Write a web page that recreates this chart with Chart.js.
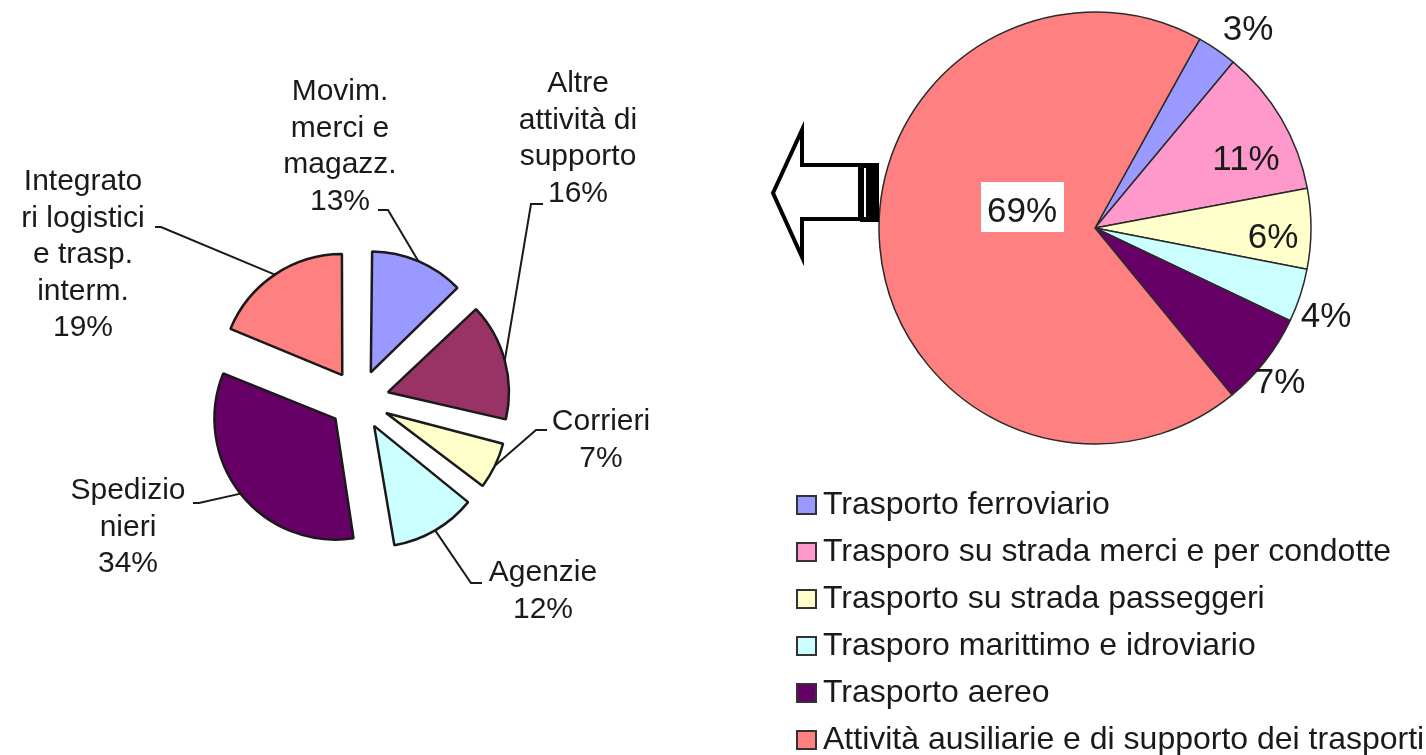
<!DOCTYPE html>
<html>
<head>
<meta charset="utf-8">
<script src="https://cdn.jsdelivr.net/npm/chart.js@4.4.0/dist/chart.umd.min.js"></script>
<style>
  html, body { margin: 0; padding: 0; background: #fff; }
  body { width: 1426px; height: 755px; position: relative; overflow: hidden; }
  #left-chart { position: absolute; left: 0; top: 0; }
  #right-chart { position: absolute; left: 740px; top: 0; }
</style>
</head>
<body>
<canvas id="left-chart" width="740" height="755"></canvas>
<canvas id="right-chart" width="686" height="755"></canvas>
<script>
// left pie: breakdown of the "attività ausiliarie" slice
var leftLabels = [
  ["Movim.", "merci e", "magazz."],
  ["Altre", "attività di", "supporto"],
  ["Corrieri"],
  ["Agenzie"],
  ["Spedizio", "nieri"],
  ["Integrato", "ri logistici", "e trasp.", "interm."]
];
var leftValues = [13, 16, 7, 12, 34, 19];
var leftColors = ["#9999ff", "#993366", "#ffffcc", "#ccffff", "#660066", "#ff8080"];

// right pie: transport sectors
var rightLabels = [
  "Trasporto ferroviario",
  "Trasporo su strada merci e per condotte",
  "Trasporto su strada passeggeri",
  "Trasporo marittimo e idroviario",
  "Trasporto aereo",
  "Attività ausiliarie e di supporto dei trasporti"
];
var rightValues = [3, 11, 6, 4, 7, 69];
var rightColors = ["#9999ff", "#ff99cc", "#ffffcc", "#ccffff", "#660066", "#ff8080"];

// label placement, relative to the pie centre (text centre x, first baseline y, leader start/knee)
var leftLabelPos = [
  {x: -19, y: -300, sx: 19, kx: 29, sy: -190},
  {x: 219, y: -308, sx: 184, kx: 172, sy: -196},
  {x: 242, y: 30, sx: 188, kx: 177, sy: 30},
  {x: 184, y: 181, sx: 123, kx: 112, sy: 183},
  {x: -231, y: 99, sx: -166, kx: -160, sy: 103},
  {x: -276, y: -210, sx: -204, kx: -198, sy: -173}
];
var rightLabelPos = [[153, -188], [151, -58], [178, 20], [231, 99], [185, 165], [-73, -6]];

var FONT = "'Liberation Sans', Arial, sans-serif";
var TEXT = "#1a1a1a";
var EXPLODE = 120; // Chart.js moves an arc by offset / 4

function pct(values, i) {
  var tot = values.reduce(function (a, b) { return a + b; }, 0);
  return Math.round(values[i] / tot * 100) + "%";
}

// keep the exploded slices the same radius (Chart.js enlarges thin ones)
var keepRadius = {
  id: "keepRadius",
  afterDatasetUpdate: function (chart, args) {
    args.meta.data.forEach(function (arc, i) {
      var off = (chart.data.datasets[0].offset[i] || 0) / 4;
      var fix = 1 - Math.sin(Math.min(Math.PI, arc.circumference));
      arc.outerRadius = arc.outerRadius - off * fix;
    });
  }
};

var leftLabelPlugin = {
  id: "leftLabels",
  afterDatasetsDraw: function (chart) {
    var ctx = chart.ctx;
    var meta = chart.getDatasetMeta(0);
    var ds = chart.data.datasets[0];
    var cx = meta.data[0].x, cy = meta.data[0].y;
    ctx.save();
    meta.data.forEach(function (arc, i) {
      var p = leftLabelPos[i];
      var mid = (arc.startAngle + arc.endAngle) / 2;
      var off = (ds.offset[i] || 0) / 4;
      var fix = 1 - Math.sin(Math.min(Math.PI, arc.circumference));
      var r = arc.outerRadius + off * fix;
      var ex = arc.x + Math.cos(mid) * (off + r);
      var ey = arc.y + Math.sin(mid) * (off + r);
      ctx.strokeStyle = "#1a1a1a";
      ctx.lineWidth = 2;
      ctx.beginPath();
      ctx.moveTo(cx + p.sx, cy + p.sy);
      ctx.lineTo(cx + p.kx, cy + p.sy);
      ctx.lineTo(ex, ey);
      ctx.stroke();

      var lines = leftLabels[i].concat([pct(leftValues, i)]);
      ctx.fillStyle = TEXT;
      ctx.font = "30px " + FONT;
      ctx.textAlign = "center";
      ctx.textBaseline = "alphabetic";
      lines.forEach(function (t, j) {
        ctx.fillText(t, cx + p.x, cy + p.y + j * 36.5);
      });
    });
    ctx.restore();
  }
};

var rightDecor = {
  id: "rightDecor",
  afterDatasetsDraw: function (chart) {
    var ctx = chart.ctx;
    var meta = chart.getDatasetMeta(0);
    var arc0 = meta.data[0];
    var cx = arc0.x, cy = arc0.y, R = arc0.outerRadius;
    ctx.save();

    // percentage labels
    ctx.font = "35px " + FONT;
    ctx.textAlign = "center";
    ctx.textBaseline = "alphabetic";
    rightValues.forEach(function (v, i) {
      var p = rightLabelPos[i];
      var t = pct(rightValues, i);
      if (i === rightValues.length - 1) {
        ctx.fillStyle = "#ffffff";
        ctx.fillRect(cx + p[0] - 41, cy + p[1] - 40, 83, 50);
      }
      ctx.fillStyle = TEXT;
      ctx.fillText(t, cx + p[0], cy + p[1]);
    });

    // arrow pointing back to the left pie
    var ax = cx - R, ay = cy;
    ctx.lineWidth = 4;
    ctx.strokeStyle = "#000";
    ctx.fillStyle = "#fff";
    ctx.lineJoin = "miter";
    ctx.beginPath();
    ctx.moveTo(ax - 106, ay - 35);
    ctx.lineTo(ax - 77, ay - 98);
    ctx.lineTo(ax - 77, ay - 63);
    ctx.lineTo(ax - 19, ay - 63);
    ctx.lineTo(ax - 19, ay - 9);
    ctx.lineTo(ax - 77, ay - 9);
    ctx.lineTo(ax - 77, ay + 29);
    ctx.closePath();
    ctx.fill();
    ctx.stroke();
    ctx.fillStyle = "#000";
    ctx.fillRect(ax - 19, ay - 65, 19, 59);
    ctx.fillStyle = "#fff";
    ctx.fillRect(ax - 15, ay - 60, 2, 49);

    // legend, one entry per line
    ctx.font = "32px " + FONT;
    ctx.textAlign = "left";
    rightLabels.forEach(function (lab, i) {
      var by = 514 + i * 47;
      ctx.fillStyle = rightColors[i];
      ctx.fillRect(57, by - 18, 19, 18);
      ctx.strokeStyle = "#333";
      ctx.lineWidth = 2;
      ctx.strokeRect(57, by - 18, 19, 18);
      ctx.fillStyle = TEXT;
      ctx.fillText(lab, 83, by);
    });
    ctx.restore();
  }
};

new Chart(document.getElementById("left-chart"), {
  type: "pie",
  data: {
    labels: leftLabels.map(function (l) { return l.join(" "); }),
    datasets: [{
      data: leftValues,
      backgroundColor: leftColors,
      borderColor: "#1a1a1a",
      borderWidth: 2.5,
      offset: leftValues.map(function () { return EXPLODE; })
    }]
  },
  options: {
    responsive: false,
    animation: false,
    radius: 121,
    rotation: 0,
    layout: { padding: { left: 0, right: 22, top: 45, bottom: 0 } },
    plugins: { legend: { display: false }, tooltip: { enabled: false } }
  },
  plugins: [keepRadius, leftLabelPlugin]
});

new Chart(document.getElementById("right-chart"), {
  type: "pie",
  data: {
    labels: rightLabels,
    datasets: [{
      data: rightValues,
      backgroundColor: rightColors,
      borderColor: "#2a2a2a",
      borderWidth: 1.5
    }]
  },
  options: {
    responsive: false,
    animation: false,
    radius: 216,
    rotation: 29,
    layout: { padding: { left: 24, right: 0, top: 0, bottom: 299 } },
    plugins: { legend: { display: false }, tooltip: { enabled: false } }
  },
  plugins: [rightDecor]
});
</script>
</body>
</html>
